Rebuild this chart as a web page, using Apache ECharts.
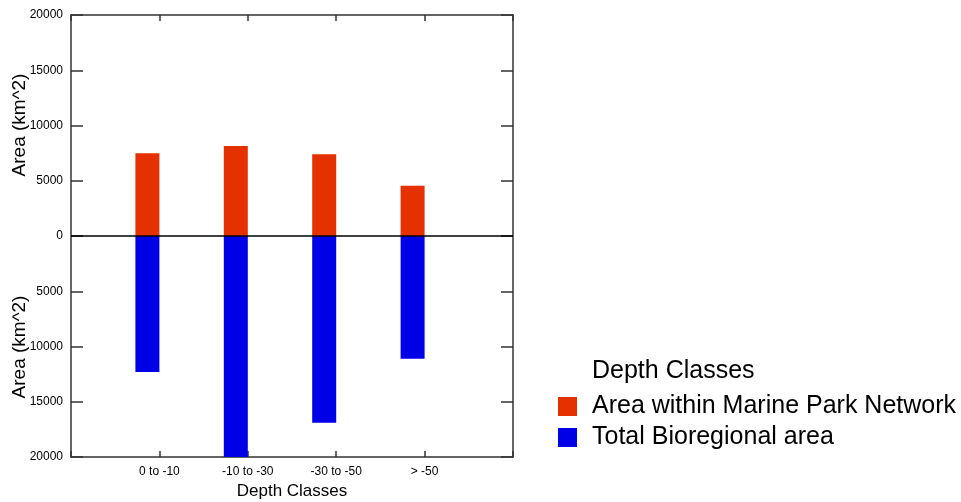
<!DOCTYPE html>
<html>
<head>
<meta charset="utf-8">
<script src="https://cdn.jsdelivr.net/npm/echarts@6/dist/echarts.min.js"></script>
<style>
  html, body { margin: 0; padding: 0; background: #ffffff; }
  #chart { width: 961px; height: 502px; }
</style>
</head>
<body>
<div id="chart"></div>
<script>
// Depth classes (empty entries pad the axis so each class sits on its own tick)
const categories = ['', '0 to -10', '-10 to -30', '-30 to -50', '> -50', ''];
// Area within the marine park network, km^2 (drawn above zero)
const parkArea = [null, 7500, 8150, 7400, 4550, null];
// Total bioregional area, km^2 (drawn below zero)
const bioregionArea = [null, 12300, 20000, 16900, 11100, null];
// Y-axis tick values shown as magnitudes on both halves
const yTicks = { min: -20000, max: 20000, step: 5000 };

const seriesNames = ['Area within Marine Park Network', 'Total Bioregional area'];
const FONT = 'Arial, "Liberation Sans", sans-serif';
const AXIS_COLOR = '#333';

const chart = echarts.init(document.getElementById('chart'), null, { renderer: 'canvas' });

const frameAxisLine = { show: true, lineStyle: { color: AXIS_COLOR, width: 1.5 } };

chart.setOption({
  backgroundColor: '#ffffff',
  animation: false,
  grid: { left: 71, right: 448, top: 15, bottom: 45, containLabel: false, outerBoundsMode: 'none' },
  xAxis: [
    {
      type: 'category',
      data: categories,
      boundaryGap: false,
      position: 'bottom',
      axisLine: Object.assign({ onZero: false }, frameAxisLine),
      axisTick: { show: true, inside: true, length: 6, lineStyle: { color: AXIS_COLOR, width: 1.5 } },
      axisLabel: { color: '#000', fontFamily: FONT, fontSize: 12, margin: 9 },
      splitLine: { show: false },
      name: 'Depth Classes',
      nameLocation: 'middle',
      nameGap: 24,
      nameTextStyle: { color: '#000', fontFamily: FONT, fontSize: 17 }
    },
    {
      type: 'category',
      data: categories,
      boundaryGap: false,
      position: 'top',
      axisLine: Object.assign({ onZero: false }, frameAxisLine),
      axisTick: { show: true, inside: true, length: 6, lineStyle: { color: AXIS_COLOR, width: 1.5 } },
      axisLabel: { show: false },
      splitLine: { show: false }
    }
  ],
  yAxis: [
    {
      type: 'value',
      min: yTicks.min,
      max: yTicks.max,
      interval: yTicks.step,
      position: 'left',
      axisLine: frameAxisLine,
      axisTick: { show: true, inside: true, length: 12, lineStyle: { color: AXIS_COLOR, width: 1.5 } },
      axisLabel: {
        color: '#000', fontFamily: FONT, fontSize: 12, margin: 8,
        formatter: v => String(Math.abs(v))
      },
      splitLine: { show: false }
    },
    {
      type: 'value',
      min: yTicks.min,
      max: yTicks.max,
      interval: yTicks.step,
      position: 'right',
      axisLine: frameAxisLine,
      axisTick: { show: true, inside: true, length: 12, lineStyle: { color: AXIS_COLOR, width: 1.5 } },
      axisLabel: { show: false },
      splitLine: { show: false }
    }
  ],
  legend: {
    orient: 'vertical',
    left: 558,
    top: 394,
    padding: 0,
    itemWidth: 19,
    itemHeight: 19,
    itemGap: 6,
    icon: 'rect',
    data: seriesNames,
    textStyle: { color: '#000', fontFamily: FONT, fontSize: 25, padding: [0, 0, 0, 10] },
    selectedMode: false
  },
  graphic: [
    {
      type: 'text', x: 20, y: 125, rotation: Math.PI / 2,
      style: { text: 'Area (km^2)', fill: '#000', font: '19px ' + FONT, align: 'center', verticalAlign: 'middle' }
    },
    {
      type: 'text', x: 20, y: 347, rotation: Math.PI / 2,
      style: { text: 'Area (km^2)', fill: '#000', font: '19px ' + FONT, align: 'center', verticalAlign: 'middle' }
    },
    {
      type: 'text', x: 592, y: 371,
      style: { text: 'Depth Classes', fill: '#000', font: '25px ' + FONT, align: 'left', verticalAlign: 'middle' }
    }
  ],
  series: [
    {
      name: seriesNames[0],
      type: 'bar',
      stack: 'area',
      barWidth: 24,
      barGap: '0%',
      itemStyle: { color: '#e53000' },
      data: parkArea,
      markLine: {
        silent: true,
        symbol: 'none',
        label: { show: false },
        lineStyle: { color: '#000', width: 1.5, type: 'solid' },
        data: [{ yAxis: 0 }]
      }
    },
    {
      name: seriesNames[1],
      type: 'bar',
      stack: 'area',
      barWidth: 24,
      barGap: '0%',
      itemStyle: { color: '#0000e6' },
      data: bioregionArea.map(v => (v == null ? null : -v))
    },
    {
      // empty companion bar so each stacked bar sits just left of its tick
      name: 'spacer',
      type: 'bar',
      barWidth: 24,
      barGap: '0%',
      data: categories.map(() => null)
    }
  ]
});
</script>
</body>
</html>
